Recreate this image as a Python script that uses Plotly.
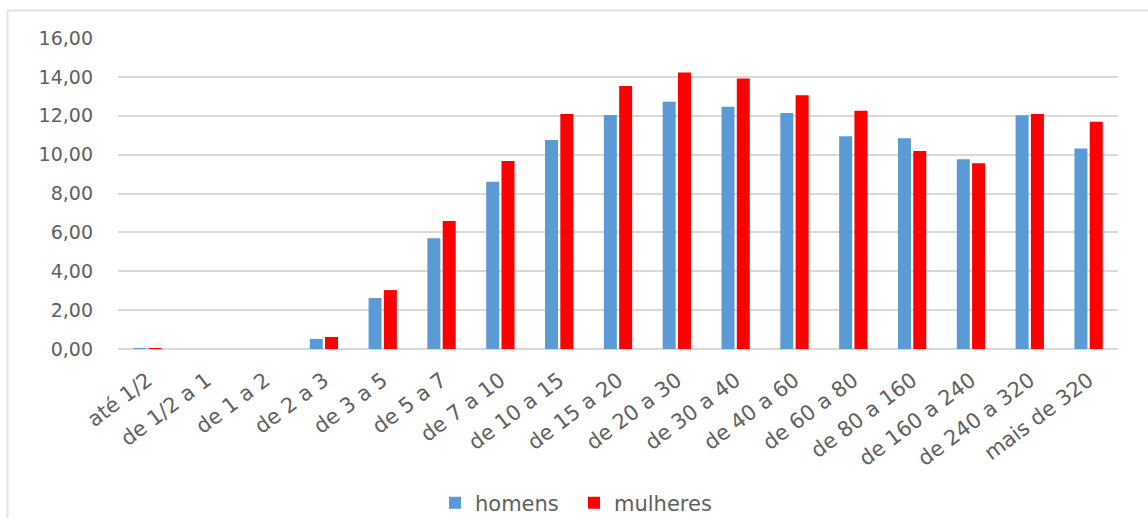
import plotly.graph_objects as go

categories = ["até 1/2", "de 1/2 a 1", "de 1 a 2", "de 2 a 3", "de 3 a 5", "de 5 a 7",
              "de 7 a 10", "de 10 a 15", "de 15 a 20", "de 20 a 30", "de 30 a 40",
              "de 40 a 60", "de 60 a 80", "de 80 a 160", "de 160 a 240",
              "de 240 a 320", "mais de 320"]
homens = [0.05, 0.0, 0.0, 0.52, 2.62, 5.70, 8.60, 10.75, 12.04, 12.72, 12.46,
          12.14, 10.94, 10.84, 9.76, 12.02, 10.32]
mulheres = [0.05, 0.0, 0.0, 0.62, 3.03, 6.58, 9.67, 12.09, 13.53, 14.23, 13.92,
            13.05, 12.26, 10.19, 9.55, 12.09, 11.69]
y_ticks = [0, 2, 4, 6, 8, 10, 12, 14, 16]

FONT = "DejaVu Sans"
GREY = "#606060"

fig = go.Figure()
fig.add_trace(go.Bar(name="homens", x=categories, y=homens, marker_color="#5B9BD5",
                     marker_line_width=0))
fig.add_trace(go.Bar(name="mulheres", x=categories, y=mulheres, marker_color="#FF0000",
                     marker_line_width=0))

L, R, T, B = 118, 30, 38, 169
W, H = 1148, 518
pw, ph = W - L - R, H - T - B

def px_x(x):
    return (x - L) / pw

def px_y(y):
    return (H - B - y) / ph

fig.update_layout(
    width=W, height=H,
    margin=dict(l=L, r=R, t=T, b=B, pad=0, autoexpand=False),
    paper_bgcolor="white", plot_bgcolor="white",
    separators=",.",
    barmode="group", bargap=0.48, bargroupgap=0.15,
    font=dict(family=FONT, size=17, color=GREY),
    showlegend=True,
    legend=dict(orientation="h", x=px_x(435), xanchor="left", y=px_y(503), yanchor="middle",
                font=dict(family=FONT, size=21, color=GREY), itemwidth=30,
                entrywidth=94, entrywidthmode="pixels",
                traceorder="normal"),
    xaxis=dict(tickangle=-37, showgrid=False, showline=False, ticks="", automargin=False,
               ticklabelstandoff=14,
               tickfont=dict(family=FONT, size=21, color=GREY)),
    yaxis=dict(range=[0, 16], tickvals=y_ticks, tickformat=".2f", showgrid=True,
               gridcolor="#d9d9d9", gridwidth=1.5, zeroline=True, zerolinecolor="#d9d9d9",
               zerolinewidth=1.5, showline=False, ticks="", ticklabelstandoff=24,
               automargin=False,
               tickfont=dict(family=FONT, size=19, color=GREY)),
    shapes=[
        dict(type="line", xref="paper", yref="paper", x0=px_x(7.5), x1=px_x(1148),
             y0=px_y(10.5), y1=px_y(10.5), line=dict(color="#e3e3e3", width=2)),
        dict(type="line", xref="paper", yref="paper", x0=px_x(7.5), x1=px_x(7.5),
             y0=px_y(10.5), y1=px_y(518), line=dict(color="#e3e3e3", width=2)),
    ],
)

fig.write_html("out.html")
